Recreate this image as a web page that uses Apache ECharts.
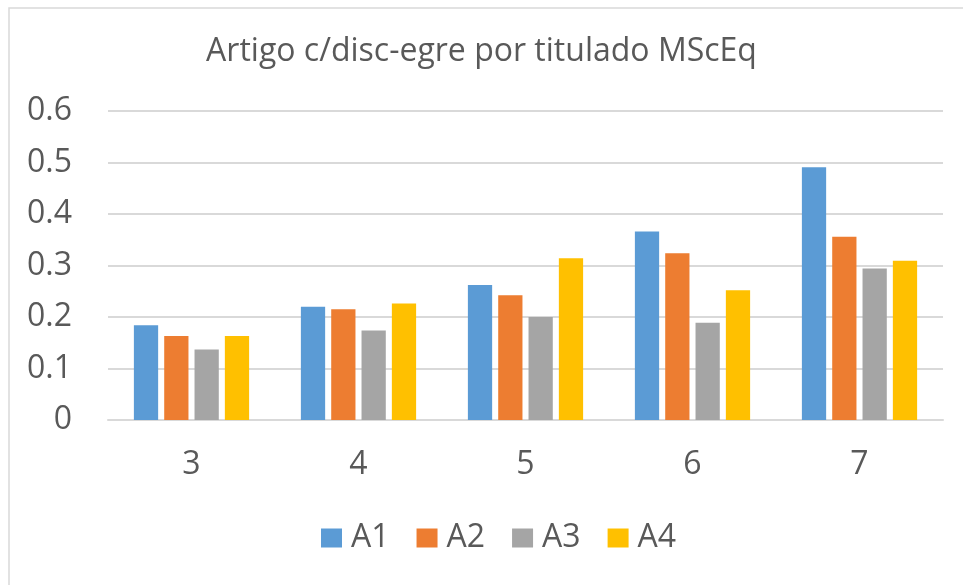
<html>
    <head>
        <meta charset="utf-8">
        <script src="https://cdn.jsdelivr.net/npm/echarts@6/dist/echarts.min.js"></script>
        <style>
            html, body { margin: 0; padding: 0; background: #fff; }
            #main { width: 963px; height: 585px; }
        </style>
    </head>
    <body>
        <div id="main"></div>
        <script>

        var categories = ['3', '4', '5', '6', '7'];
        var a1 = [0.184, 0.220, 0.262, 0.366, 0.491];
        var a2 = [0.163, 0.215, 0.242, 0.324, 0.356];
        var a3 = [0.137, 0.174, 0.200, 0.189, 0.294];
        var a4 = [0.163, 0.226, 0.314, 0.252, 0.309];
        var seriesNames = ['A1', 'A2', 'A3', 'A4'];
        var colors = ['#5B9BD5', '#ED7D31', '#A5A5A5', '#FFC000'];

        var textColor = '#595959';
        var fontFamily = '"Open Sans", "Noto Sans", sans-serif';

        var makeSeries = function (name, data, color) {
            return {
                name: name,
                type: 'bar',
                data: data,
                barGap: '25%',
                barCategoryGap: '31%',
                itemStyle: { color: color },
                emphasis: { disabled: true }
            };
        };

        var option = {
            animation: false,
            backgroundColor: '#fff',
            textStyle: { fontFamily: fontFamily },
            color: colors,
            graphic: [{
                type: 'rect',
                shape: { x: 9, y: 8, width: 1100, height: 1000 },
                style: { fill: 'none', stroke: '#D9D9D9', lineWidth: 1.5 },
                silent: true
            }],
            title: {
                text: 'Artigo c/disc-egre por titulado MScEq',
                left: 'center',
                top: 31,
                textStyle: {
                    color: textColor,
                    fontSize: 32,
                    fontWeight: 'normal',
                    fontFamily: fontFamily
                }
            },
            legend: {
                data: seriesNames,
                bottom: 26,
                left: 316,
                itemWidth: 21,
                itemHeight: 19,
                itemGap: 27,
                icon: 'rect',
                textStyle: {
                    color: textColor,
                    fontSize: 32,
                    fontFamily: fontFamily,
                    padding: [0, 0, 0, 4]
                }
            },
            grid: {
                left: 108,
                right: 20,
                top: 111,
                bottom: 165,
                containLabel: false
            },
            xAxis: {
                type: 'category',
                data: categories,
                axisLine: { lineStyle: { color: '#D9D9D9', width: 2 } },
                axisTick: { show: false },
                axisLabel: {
                    color: textColor,
                    fontSize: 32,
                    margin: 29,
                    fontFamily: fontFamily
                }
            },
            yAxis: {
                type: 'value',
                min: 0,
                max: 0.6,
                interval: 0.1,
                axisLine: { show: false },
                axisTick: { show: false },
                splitLine: { lineStyle: { color: '#D9D9D9', width: 2 } },
                axisLabel: {
                    color: textColor,
                    fontSize: 32,
                    margin: 36,
                    fontFamily: fontFamily,
                    formatter: function (v) {
                        return v === 0 ? '0' : v.toFixed(1);
                    }
                }
            },
            series: [
                makeSeries('A1', a1, colors[0]),
                makeSeries('A2', a2, colors[1]),
                makeSeries('A3', a3, colors[2]),
                makeSeries('A4', a4, colors[3])
            ]
        };

        var myChart = echarts.init(document.getElementById('main'));
        myChart.setOption(option);

        </script>
    </body>
</html>
